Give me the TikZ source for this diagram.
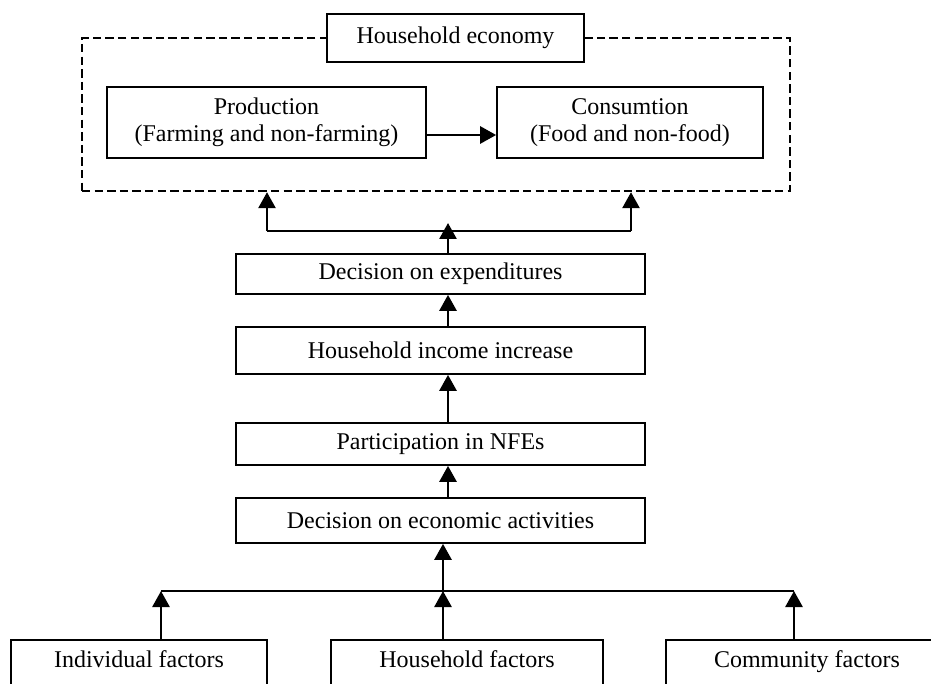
\documentclass[tikz,border=0pt]{standalone}
\usepackage{fontspec}
\setmainfont{Liberation Serif}
\usetikzlibrary{arrows.meta,positioning}

\begin{document}
\begin{tikzpicture}[x=0.5pt, y=-0.5pt,
    box/.style={rectangle, draw=black, line width=0.85pt, fill=white, align=center, inner sep=0pt, font=\fontsize{12}{13.5}\selectfont},
    frame/.style={rectangle, draw=black, line width=1.2pt, dash pattern=on 4.2pt off 2.1pt, inner sep=0pt},
    factor/.style={box, anchor=north, text height=11pt, text depth=40pt, inner ysep=3pt},
    arr/.style={line width=1.35pt, -{Triangle[length=8pt, width=8.5pt]}},
    link/.style={line width=0.9pt}
]
\useasboundingbox (0,0) rectangle (931,684);
\clip (0,0) rectangle (931,684);

\node[frame, minimum width=354pt, minimum height=76.5pt] (eco_frame) at (436, 114.5) {};
\node[box, minimum width=128.5pt, minimum height=24pt] (eco_block) at (455.5, 38) {Household economy};
\node[box, minimum width=159.5pt, minimum height=35.5pt] (prod_block) at (266.5, 122.5) {Production \\ (Farming and non-farming)};
\node[box, minimum width=133pt, minimum height=35.5pt] (cons_block) at (630, 122.5) {Consumtion \\ (Food and non-food)};

\node[box, minimum width=204.5pt, minimum height=20pt] (exp_block) at (440.5, 274) {Decision on expenditures};
\node[box, minimum width=204.5pt, minimum height=23.5pt] (income_block) at (440.5, 350.5) {Household income increase};
\node[box, minimum width=204.5pt, minimum height=21pt] (nfe_block) at (440.5, 444) {Participation in NFEs};
\node[box, minimum width=204.5pt, minimum height=22.5pt] (econ_block) at (440.5, 520.5) {Decision on economic activities};

\node[factor, minimum width=128pt] (indiv_block) at (139, 639) {Individual factors};
\node[factor, minimum width=136pt] (hh_block) at (467, 639) {Household factors};
\node[factor, minimum width=141pt] (comm_block) at (807, 639) {Community factors};

\coordinate (mid_axis) at (448, 0);
\coordinate (top_left) at (267, 231);
\coordinate (top_right) at (631, 231);
\coordinate (top_tip) at (448, 223);
\coordinate (base_left) at (161, 591);
\coordinate (base_mid) at (443, 591);
\coordinate (base_right) at (794, 591);

% production feeds consumption
\draw[arr] ([yshift=-6.25pt]prod_block.east) -- ([yshift=-6.25pt]cons_block.west);

% upper fork
\draw[link] (top_left) -- (top_right);
\draw[arr] (top_left) -- (top_left |- eco_frame.south);
\draw[arr] (top_right) -- (top_right |- eco_frame.south);
\draw[arr] (exp_block.north -| mid_axis) -- (top_tip);

% middle chain
\draw[arr] (income_block.north -| mid_axis) -- (exp_block.south -| mid_axis);
\draw[arr] (nfe_block.north -| mid_axis) -- (income_block.south -| mid_axis);
\draw[arr] (econ_block.north -| mid_axis) -- (nfe_block.south -| mid_axis);

% lower fork
\draw[arr] (base_mid) -- (econ_block.south -| base_mid);
\draw[link] (base_left) -- (base_right);
\draw[arr] (indiv_block.north -| base_left) -- (base_left);
\draw[arr] (hh_block.north -| base_mid) -- (base_mid);
\draw[arr] (comm_block.north -| base_right) -- (base_right);

\end{tikzpicture}
\end{document}
